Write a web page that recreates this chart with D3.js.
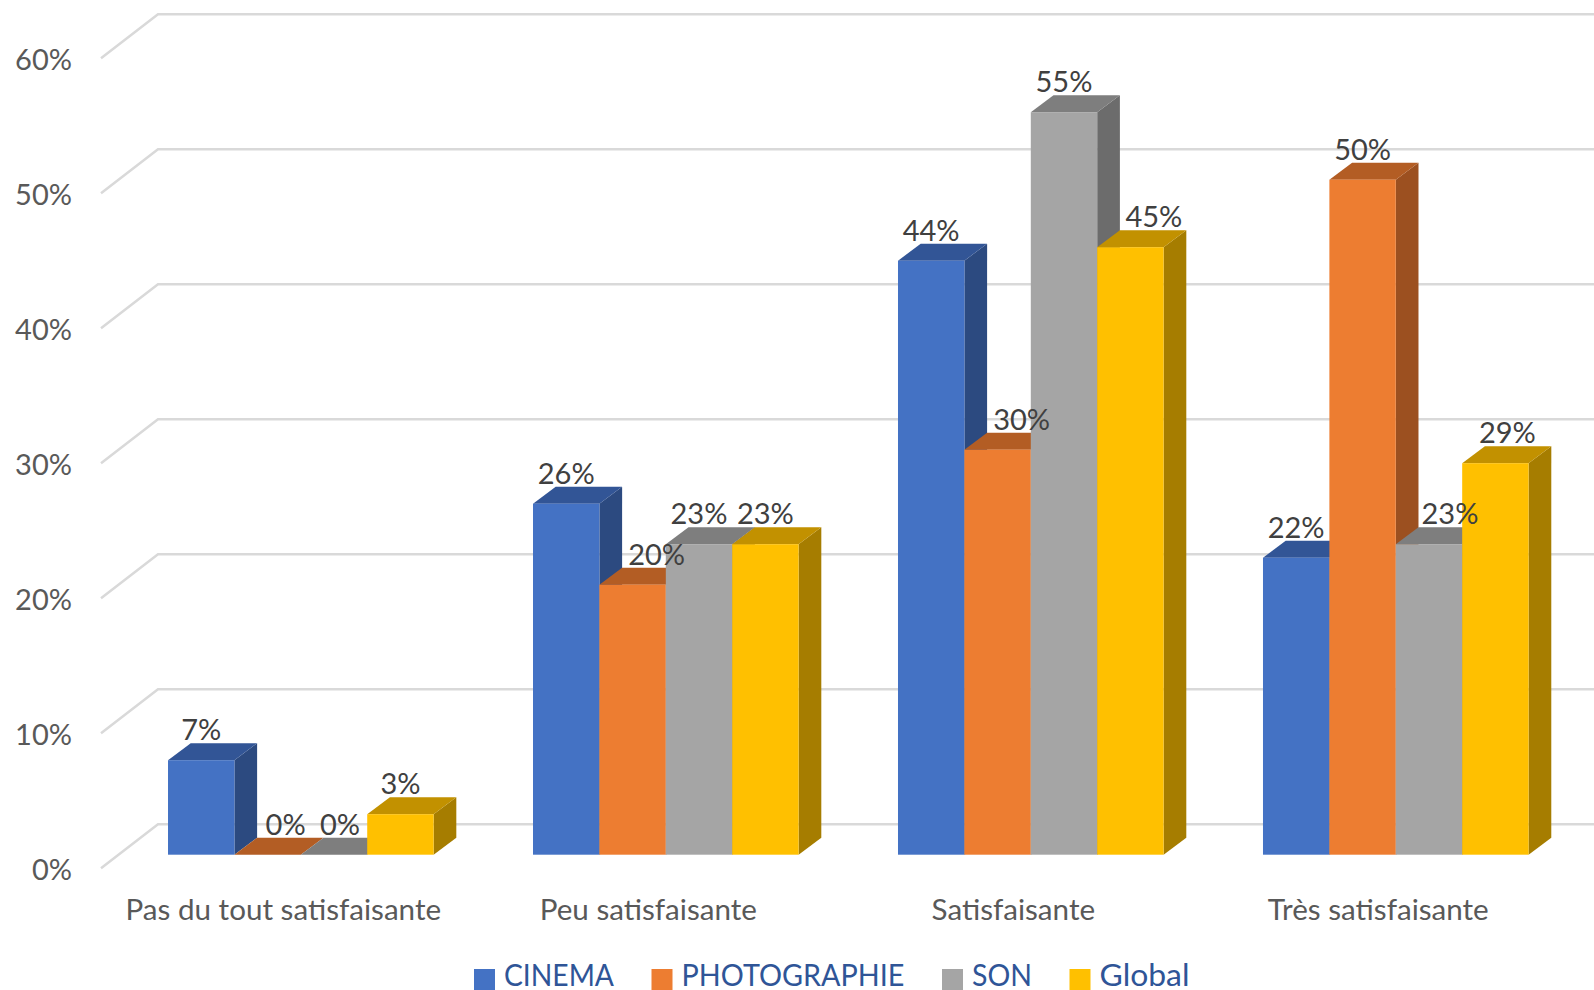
<!DOCTYPE html>
<html><head><meta charset="utf-8">
<script src="https://cdnjs.cloudflare.com/ajax/libs/d3/7.8.5/d3.min.js"></script>
<style>html,body{margin:0;padding:0;background:#fff;overflow:hidden}svg{display:block}
text{font-family:Lato,"Open Sans",sans-serif}</style></head><body><svg id="c" width="1594" height="990"></svg>
<script>
const categories = ["Pas du tout satisfaisante","Peu satisfaisante","Satisfaisante","Très satisfaisante"];
const seriesNames = ["CINEMA","PHOTOGRAPHIE","SON","Global"];
const cinema = [7,26,44,22];
const photographie = [0,20,30,50];
const son = [0,23,55,23];
const globalSeries = [3,23,45,29];
const yTicks = [0,10,20,30,40,50,60];

const seriesValues = [cinema,photographie,son,globalSeries];
const front = ["#4472c4","#ed7d31","#a5a5a5","#ffc000"];
const top_ = ["#325596","#b35d24","#7e7e7e","#c29100"];
const side = ["#2c4a80","#9c5020","#6c6c6c","#a67d00"];
const labelShift = {"0|1":18,"0|2":6,"1|1":24,"2|1":24,"2|3":23.5,"3|2":21,"3|3":12};
const dx=22.7, dy=17;

const svg=d3.select("#c");
const y=d3.scaleLinear().domain([0,60]).range([854.7,44.7]);
const x0=d3.scaleBand().domain(categories).range([118.3,1578.3]).paddingInner(0.2723).paddingOuter(0.1362);
const x1=d3.scaleBand().domain(seriesNames).range([0,x0.bandwidth()]);

// gridlines
const g=svg.append("g");
yTicks.forEach(t=>{
  const p=d3.path();
  p.moveTo(101,y(t)+13.5); p.lineTo(158,y(t)-30.5); p.lineTo(1594,y(t)-30.5);
  g.append("path").attr("d",p.toString()).attr("fill","none").attr("stroke","#d9d9d9").attr("stroke-width",2.5);
});

// y axis labels
const ya=svg.append("g").attr("transform","translate(72,15.5)")
  .call(d3.axisLeft(y).tickValues(yTicks).tickSize(0).tickPadding(0).tickFormat(d=>d+"%"));
ya.select(".domain").remove();
ya.selectAll("text").attr("font-size",29).attr("fill","#595959").style("font-family","Lato");

// bars
categories.forEach((c,ci)=>{
  seriesNames.forEach((s,si)=>{
    const v=seriesValues[si][ci];
    const xl=x0(c)+x1(s), w=x1.bandwidth(), yt=y(v), yb=y(0);
    const gb=svg.append("g");
    gb.append("path").attr("fill",side[si]).attr("d",`M${xl+w},${yt}L${xl+w+dx},${yt-dy}L${xl+w+dx},${yb-dy}L${xl+w},${yb}Z`);
    gb.append("path").attr("fill",top_[si]).attr("d",`M${xl},${yt}L${xl+dx},${yt-dy}L${xl+w+dx},${yt-dy}L${xl+w},${yt}Z`);
    gb.append("rect").attr("x",xl).attr("y",yt).attr("width",w).attr("height",yb-yt).attr("fill",front[si]);
  });
});
// data labels on top
categories.forEach((c,ci)=>{
  seriesNames.forEach((s,si)=>{
    const v=seriesValues[si][ci];
    svg.append("text").attr("x",x0(c)+x1(s)+x1.bandwidth()/2+(labelShift[ci+"|"+si]||0))
      .attr("y",y(v)-dy-3).attr("text-anchor","middle").attr("font-size",29).attr("fill","#404040").text(v+"%");
  });
});

// category axis
const xa=svg.append("g").attr("transform","translate(-17.5,919.5)")
  .call(d3.axisBottom(x0).tickSize(0).tickPadding(0));
xa.select(".domain").remove();
xa.selectAll("text").attr("dy",0).attr("y",0).attr("font-size",29.6).attr("fill","#595959").style("font-family","Lato");

// legend
const legendX=[474,651.5,942,1069.5];
const legendTextW=[110,223,60,90];
seriesNames.forEach((s,i)=>{
  svg.append("rect").attr("x",legendX[i]).attr("y",969).attr("width",21).attr("height",21).attr("fill",front[i]);
  svg.append("text").attr("x",legendX[i]+30).attr("y",986).attr("font-size",30).attr("fill","#2f5597")
    .attr("textLength",legendTextW[i]).attr("lengthAdjust","spacingAndGlyphs").text(s);
});
</script></body></html>
